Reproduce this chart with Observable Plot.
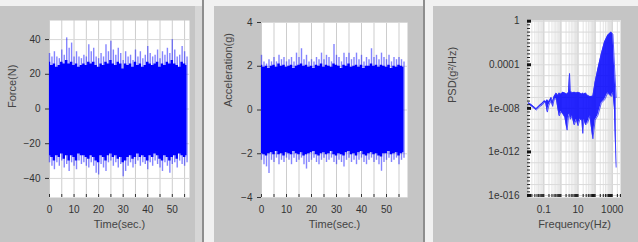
<!DOCTYPE html>
<html>
<head>
<meta charset="utf-8">
<script src="https://cdn.jsdelivr.net/npm/d3@7"></script>
<script src="https://cdn.jsdelivr.net/npm/@observablehq/plot@0.6"></script>
<style>
html,body{margin:0;padding:0;background:#efefef;}
#root{position:relative;width:638px;height:242px;overflow:hidden;background:#f1f1f1;}
.bg{position:absolute;}
.chart{position:absolute;top:0;}
</style>
</head>
<body>
<div id="root">
  <div class="bg" style="left:0;top:6px;width:195px;height:236px;background:#c5c5c5"></div>
  <div class="bg" style="left:195px;top:6px;width:7px;height:236px;background:#d6d6d6"></div>
  <div class="bg" style="left:202px;top:0;width:2px;height:242px;background:#8e8e8e"></div>
  <div class="bg" style="left:214px;top:6px;width:209px;height:236px;background:#c5c5c5"></div>
  <div class="bg" style="left:423px;top:0;width:2px;height:242px;background:#8e8e8e"></div>
  <div class="bg" style="left:433px;top:6px;width:205px;height:236px;background:#c5c5c5"></div>
  <div class="chart" id="c1" style="left:0"></div>
  <div class="chart" id="c2" style="left:210px"></div>
  <div class="chart" id="c3" style="left:430px"></div>
</div>
<script>
// ---------- data ----------
// Force panel: one sample per second (envelope)
const forceTime = d3.range(0, 57);
const forceHi = [32,30,33,30,29,34,31,41,35,38, 30,33,30,29,31,30,37,33,35,30, 29,32,30,37,33,39,34,31,35,32, 28,33,30,31,28,34,30,33,29,31, 36,32,30,31,34,29,33,31,35,32, 40,34,30,31,36,33,30];
const forceLo = [-31,-33,-35,-31,-33,-30,-34,-32,-36,-31, -33,-35,-30,-32,-31,-33,-34,-31,-33,-37, -38,-32,-34,-36,-31,-30,-33,-31,-34,-32, -39,-36,-33,-31,-34,-32,-30,-33,-31,-32, -35,-31,-33,-30,-32,-34,-36,-31,-33,-37, -32,-31,-34,-30,-32,-33,-31];
const forceCoreHi = [27,25,26,24,25,27,26,28,26,27, 25,26,24,25,26,25,27,26,27,25, 24,26,25,27,26,28,26,25,27,26, 23,26,25,26,24,27,25,26,24,25, 27,26,25,26,27,24,26,25,27,26, 28,26,25,24,27,26,25];
const forceCoreLo = [-27,-28,-30,-27,-28,-26,-29,-27,-30,-27, -28,-30,-26,-27,-27,-28,-29,-27,-28,-30, -31,-27,-28,-30,-27,-26,-28,-27,-29,-28, -31,-30,-28,-27,-29,-28,-26,-28,-27,-28, -30,-27,-28,-26,-27,-29,-30,-27,-28,-30, -28,-27,-29,-26,-27,-28,-27];

// Acceleration panel
const accTime = d3.range(0, 58);
const accHi = [2.5,2.2,2.1,2.3,2.2,2.4,2.2,2.5,2.3,2.4, 2.2,2.3,2.4,2.2,2.6,2.4,2.8,2.3,2.5,2.2, 2.3,2.2,2.4,2.3,2.6,2.3,2.5,2.4,2.2,3.0, 2.5,2.4,2.2,2.6,2.4,2.6,2.3,2.4,2.6,2.3, 2.5,2.2,2.4,2.3,2.8,2.4,2.5,2.3,2.6,2.4, 2.3,2.5,2.2,2.4,2.3,2.4,2.3,2.2];
const accLo = [-2.3,-2.5,-2.6,-2.9,-2.3,-2.4,-2.2,-2.5,-2.3,-2.4, -2.2,-2.3,-2.5,-2.2,-2.4,-2.3,-2.2,-2.5,-2.7,-2.4, -2.3,-2.2,-2.4,-2.5,-2.3,-2.2,-2.4,-2.3,-2.2,-2.4, -2.5,-2.3,-2.4,-2.6,-2.3,-2.2,-2.4,-2.3,-2.5,-2.3, -2.2,-2.4,-2.5,-2.3,-2.2,-2.4,-2.3,-2.5,-2.8,-2.4, -2.3,-2.2,-2.4,-2.3,-2.2,-2.5,-2.3,-2.2];
const accCoreHi = [2.05,1.95,2.0,1.9,2.0,2.05,1.95,2.1,2.0,2.05, 1.95,2.0,2.05,1.9,2.0,2.05,2.1,2.0,2.05,1.95, 2.0,1.9,2.05,2.0,2.1,1.95,2.05,2.0,1.95,2.1, 2.05,2.0,1.9,2.05,2.0,2.1,1.95,2.0,2.05,1.95, 2.05,1.9,2.0,2.0,2.1,2.0,2.05,1.95,2.05,2.0, 1.95,2.05,1.9,2.0,1.95,2.05,2.0,1.95];
const accCoreLo = [-2.0,-2.05,-2.1,-2.0,-1.95,-2.05,-1.9,-2.05,-2.0,-2.1, -1.95,-2.0,-2.05,-1.9,-2.0,-2.05,-1.95,-2.1,-2.05,-2.0, -1.95,-1.9,-2.05,-2.1,-2.0,-1.95,-2.05,-2.0,-1.9,-2.05, -2.1,-2.0,-2.05,-2.1,-1.95,-1.9,-2.05,-2.0,-2.1,-1.95, -1.9,-2.05,-2.1,-2.0,-1.95,-2.05,-2.0,-2.1,-2.15,-2.0, -2.0,-1.9,-2.05,-2.0,-1.95,-2.1,-2.0,-1.95];

// PSD panel
const psdFreq = [0.013,0.02,0.036,0.06,0.08,0.11,0.13,0.16,0.2,0.27, 0.33,0.4,0.54,0.66,0.8,1.0,1.3,1.7,2.3,2.8, 3.2,3.6,4.5,6,8,10,13,17,19,22, 28,37,50,74,100,145,230,355,550,870, 1100,1350,1700];
const psdHi = [3.2e-8,2e-8,9e-9,2e-8,3e-8,5e-8,4e-8,6e-8,4e-8,1e-7, 4e-8,1.2e-7,2.5e-7,1.5e-7,2.5e-7,2e-7,3e-7,2.5e-7,2e-7,3e-7, 1.6e-5,4e-7,2.5e-7,3e-7,2.5e-7,3e-7,2.5e-7,2e-7,2.5e-7,2e-7, 2.5e-7,1.5e-7,1.2e-7,1.3e-7,2.5e-6,4e-5,1e-3,1.2e-2,5e-2,1e-1, 6e-2,1e-4,1e-7];
const psdLo = [2.5e-8,1.5e-8,7e-9,1.5e-8,2e-8,3.5e-8,3e-8,4.5e-9,2e-8,5e-8, 1.5e-8,6e-8,8e-8,1e-8,2e-9,5e-9,3e-9,1.5e-9,1e-10,2e-9, 3e-9,1e-9,2e-9,3e-10,1e-9,2.5e-10,1e-9,8e-10,5e-11,1e-9, 3e-10,5e-10,2e-9,1.6e-11,8e-10,2.2e-9,3e-8,6e-8,2.5e-7,1.2e-7, 3e-7,1e-8,4e-14];

// ticks
const timeTicks = [0,10,20,30,40,50];
const timeGrid = [0,5,10,15,20,25,30,35,40,45,50,55];
const forceTicks = [-40,-20,0,20,40];
const accTicks = [-4,-2,0,2,4];
const freqTicks = [0.1,10,1000];
const freqTickLabels = ["0.1","10","1000"];
const psdTicks = [1,1e-4,1e-8,1e-12,1e-16];
const psdTickLabels = ["1","0.0001","1e-008","1e-012","1e-016"];

// ---------- drawing ----------
const FONT = '"Liberation Sans", Arial, sans-serif';
const style = {background:"transparent", fontFamily:FONT, fontSize:"10px", color:"#333", overflow:"visible"};
const BLUE = "#0000ff";

function timePanel(el, o) {
  const W = o.width, H = 242, mT = o.mT, mB = 45;
  const fh = H - mT - mB;
  const chart = Plot.plot({
    width: W, height: H, marginLeft: o.mL, marginRight: o.mR, marginTop: mT, marginBottom: mB,
    style,
    x: {type:"linear", domain:o.xDomain},
    y: {type:"linear", domain:o.yDomain},
    marks: [
      Plot.frame({fill:"white", stroke:null}),
      Plot.gridX(timeGrid, {stroke:"#cdcdcd", strokeOpacity:1}),
      Plot.gridY(o.yTicks, {stroke:"#d8d8d8", strokeOpacity:1}),
      Plot.ruleX(o.t, {x:d=>d, y1:(d,i)=>o.lo[i], y2:(d,i)=>o.hi[i], stroke:"#1f1fff", strokeOpacity:0.55, strokeWidth:1.4}),
      Plot.areaY(o.t, {x:d=>d, y1:(d,i)=>o.coreLo[i], y2:(d,i)=>o.coreHi[i], fill:BLUE, curve:"step"}),
      Plot.ruleX(timeGrid, {x:d=>d, insetTop: fh-3, stroke:"#333"}),
      Plot.axisY({ticks:o.yTicks, tickSize:4, tickPadding:5, label:null}),
      Plot.axisX({ticks:timeTicks, tickSize:0, tickPadding:8, label:null}),
      Plot.text([o.yLabel], {frameAnchor:"left", dx:o.yLabelDx, dy:o.yLabelDy, rotate:-90, text:d=>d, fontSize:11, fill:"#444"}),
      Plot.text(["Time(sec.)"], {frameAnchor:"bottom", dy:30, text:d=>d, fontSize:11, fill:"#444"})
    ]
  });
  document.getElementById(el).appendChild(chart);
}

timePanel("c1", {width:200, mL:49, mR:11, mT:20, xDomain:[0,57], yDomain:[-51,51], yTicks:forceTicks,
  t:forceTime, hi:forceHi, lo:forceLo, coreHi:forceCoreHi, coreLo:forceCoreLo, yLabel:"Force(N)", yLabelDx:-37, yLabelDy:-1});
timePanel("c2", {width:205, mL:51, mR:8, mT:22, xDomain:[0,58.4], yDomain:[-4,4], yTicks:accTicks,
  t:accTime, hi:accHi, lo:accLo, coreHi:accCoreHi, coreLo:accCoreLo, yLabel:"Acceleration(g)", yLabelDx:-33, yLabelDy:-3});

// PSD panel
(function(){
  const W = 208, H = 242, mL = 98, mR = 18, mT = 20, mB = 45;
  const fw = W - mL - mR, fh = H - mT - mB;
  const freqMinor = [];
  for (let k = -2; k <= 3; k++) for (let d = 1; d <= 9; d++) {
    const v = d * Math.pow(10, k);
    if (v >= 0.0127 && v <= 3050) freqMinor.push(v);
  }
  const freqDecades = [0.1,1,10,100,1000];
  const psdDecades = d3.range(-16, 1).map(k => Math.pow(10, k));
  const psdMinor = d3.range(-48, 1).map(k => Math.pow(10, k/3));
  const idx = d3.range(psdFreq.length);
  const chart = Plot.plot({
    width: W, height: H, marginLeft: mL, marginRight: mR, marginTop: mT, marginBottom: mB,
    style,
    x: {type:"log", domain:[0.0127, 3050]},
    y: {type:"log", domain:[6.5e-17, 1.16]},
    marks: [
      Plot.frame({fill:"white", stroke:null}),
      Plot.gridX(freqMinor, {stroke:"#e3e3e3", strokeOpacity:1}),
      Plot.gridX(freqDecades, {stroke:"#cfcfcf", strokeOpacity:1}),
      Plot.gridY(psdDecades, {stroke:"#dadada", strokeOpacity:1}),
      Plot.areaY(idx, {x:i=>psdFreq[i], y1:i=>psdLo[i], y2:i=>psdHi[i], fill:BLUE, fillOpacity:0.85}),
      Plot.lineY(idx, {x:i=>psdFreq[i], y:i=>psdHi[i], stroke:"#3030ff", strokeWidth:1, strokeOpacity:0.8}),
      Plot.lineY(idx, {x:i=>psdFreq[i], y:i=>psdLo[i], stroke:"#3030ff", strokeWidth:1, strokeOpacity:0.8}),
      Plot.ruleX(freqMinor, {x:d=>d, insetTop: fh-3, stroke:"#111"}),
      Plot.ruleY(psdMinor, {y:d=>d, insetRight: fw-3, dx:-1, stroke:"#222"}),
      Plot.ruleY(psdTicks, {y:d=>d, insetRight: fw-4, dx:-1, stroke:"#111", strokeWidth:3}),
      Plot.axisY({ticks:psdTicks, tickSize:0, tickPadding:9, label:null, tickFormat:d=>psdTickLabels[psdTicks.indexOf(d)]}),
      Plot.axisX({ticks:freqTicks, tickSize:0, tickPadding:8, label:null, tickFormat:d=>freqTickLabels[freqTicks.indexOf(d)]}),
      Plot.text(["PSD(g²/Hz)"], {frameAnchor:"left", dx:-76, dy:-6, rotate:-90, text:d=>d, fontSize:11, fill:"#444"}),
      Plot.text(["Frequency(Hz)"], {frameAnchor:"bottom", dy:30, text:d=>d, fontSize:11, fill:"#444"})
    ]
  });
  document.getElementById("c3").appendChild(chart);
})();
</script>
</body>
</html>
